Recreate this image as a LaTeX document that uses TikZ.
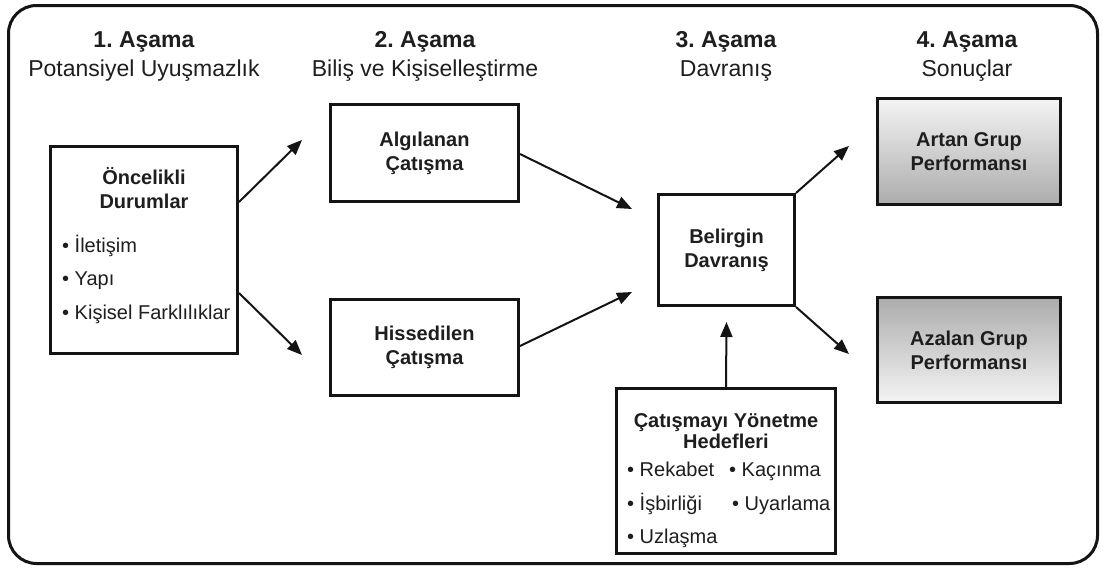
\documentclass[tikz,border=0pt]{standalone}
\usepackage{fontspec}
\setmainfont{Liberation Sans}
\usetikzlibrary{arrows.meta,calc}
\definecolor{txt}{HTML}{1E1E1E}
\definecolor{lightg}{HTML}{F4F4F4}
\definecolor{darkg}{HTML}{ACACAC}
\frenchspacing
\begin{document}
\begin{tikzpicture}[x=1pt,y=-1pt,
  box/.style={draw=black!92, line width=3pt, inner sep=0pt, text=txt,
    font=\fontsize{20}{24}\selectfont\bfseries, align=center},
  arr/.style={line width=2pt, draw=black!92, -{Triangle[length=15pt,width=12pt]}},
  head/.style={font=\fontsize{23}{28}\selectfont\bfseries, anchor=base, text=txt, inner sep=0pt},
  sub/.style={font=\fontsize{23}{28}\selectfont, anchor=base, text=txt, inner sep=0pt},
  btitle/.style={font=\fontsize{20}{24}\selectfont\bfseries, anchor=base, text=txt, inner sep=0pt},
  item/.style={font=\fontsize{20}{24}\selectfont, anchor=base west, text=txt, inner sep=0pt}]
\useasboundingbox (0,0) rectangle (1103,570);
\fill[white] (0,0) rectangle (1103,570);
% outer frame
\draw[line width=3pt, draw=black!92, rounded corners=28pt] (8.5,5.5) rectangle (1097.5,563.5);

% headers
\node[head] (h1a) at (144,47) {1. Aşama};
\node[sub]  (h1b) at (144,76) {Potansiyel Uyuşmazlık};
\node[head] (h2a) at (425,47) {2. Aşama};
\node[sub]  (h2b) at (425,76) {Biliş ve Kişiselleştirme};
\node[head] (h3a) at (726,47) {3. Aşama};
\node[sub]  (h3b) at (726,76) {Davranış};
\node[head] (h4a) at (967,47) {4. Aşama};
\node[sub]  (h4b) at (967,76) {Sonuçlar};

% boxes
\node[box, minimum width=187pt, minimum height=207pt] (onc) at (144,250) {};
\node[btitle] (onc1) at (144,184) {Öncelikli};
\node[btitle] (onc2) at (144,208) {Durumlar};
\node[item] (onci1) at (62,252) {• İletişim};
\node[item] (onci2) at (62,285) {• Yapı};
\node[item] (onci3) at (62,319) {• Kişisel Farklılıklar};

\node[box, minimum width=188pt, minimum height=97pt] (alg) at (424.5,153) {Algılanan\\Çatışma};
\node[box, minimum width=188pt, minimum height=96pt] (his) at (424.5,347.5) {Hissedilen\\Çatışma};
\node[box, minimum width=136pt, minimum height=111pt] (bel) at (726.5,250) {Belirgin\\Davranış};
\node[box, minimum width=183pt, minimum height=106pt, top color=lightg, bottom color=darkg] (art) at (969,151.5) {Artan Grup\\Performansı};
\node[box, minimum width=183pt, minimum height=105pt, top color=darkg, bottom color=lightg] (aza) at (969,350) {Azalan Grup\\Performansı};

\node[box, minimum width=219pt, minimum height=165pt] (cat) at (726,471) {};
\node[btitle] (cat1) at (726,427) {Çatışmayı Yönetme};
\node[btitle] (cat2) at (726,448.5) {Hedefleri};
\node[item] (cati1) at (627,476) {• Rekabet};
\node[item] (cati2) at (729,476) {• Kaçınma};
\node[item] (cati3) at (627,510) {• İşbirliği};
\node[item] (cati4) at (732,510) {• Uyarlama};
\node[item] (cati5) at (627,543) {• Uzlaşma};

% connectors
\draw[arr] ([yshift=48pt]onc.east) -- ([xshift=-27pt,yshift=13pt]alg.west);
\draw[arr] ([yshift=-43pt]onc.east) -- ([xshift=-27pt,yshift=-7.5pt]his.west);
\draw[arr] ([yshift=-1pt]alg.east) -- ([xshift=-25pt,yshift=41pt]bel.west);
\draw[arr] ([yshift=1.5pt]his.east) -- ([xshift=-25pt,yshift=-42pt]bel.west);
\draw[arr] (bel.north east) -- ([xshift=-27pt,yshift=5.5pt]art.west);
\draw[arr] (bel.south east) -- ([xshift=-27pt,yshift=-4pt]aza.west);
\draw[arr] (cat.north) -- ([yshift=-15pt]bel.south);
\end{tikzpicture}
\end{document}
